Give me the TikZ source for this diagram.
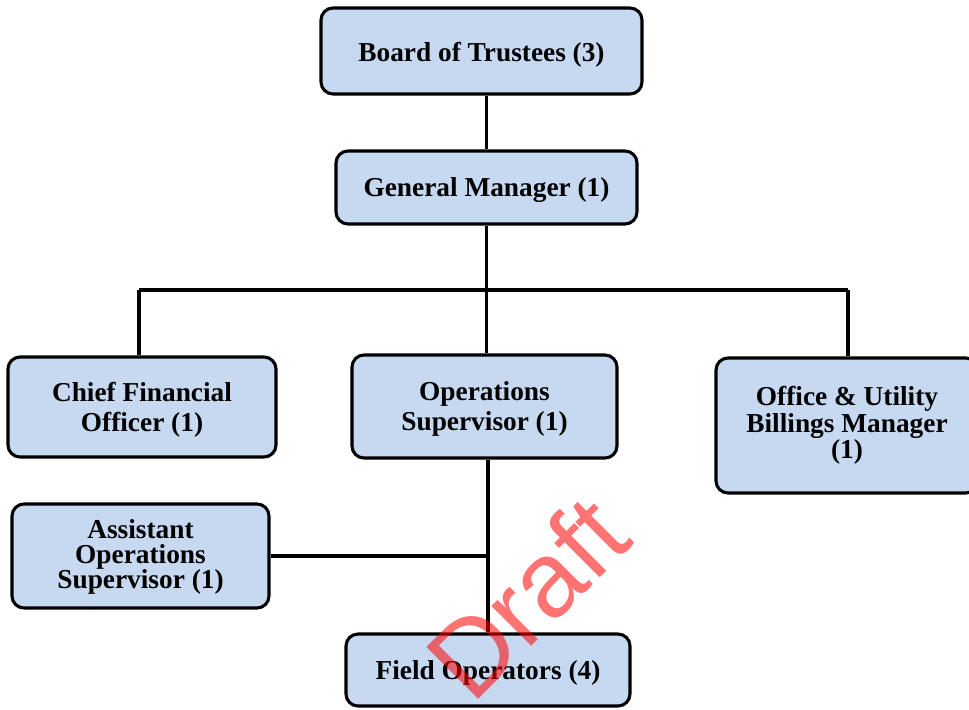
\documentclass[tikz,border=0pt]{standalone}
\usepackage{fontspec}
\setmainfont{Liberation Serif}
\newfontfamily\wmfont{Liberation Sans}
\definecolor{boxfill}{HTML}{C6D9F1}
\begin{document}
\begin{tikzpicture}[x=0.75pt,y=-0.75pt,
  orgbox/.style={draw=black,line width=2.3pt,fill=boxfill,rounded corners=9pt,inner sep=0pt},
  lbl/.style={align=center,inner sep=0pt,font=\bfseries\fontsize{20.5}{22.5}\selectfont},
  conn/.style={draw=black,line width=2.5pt}]
\useasboundingbox (0,0) rectangle (969,709);
\clip (0,0) rectangle (969,709);
% boxes
\node[orgbox,minimum width=321*0.75pt,minimum height=86*0.75pt] (board) at (481.5,51) {};
\node[orgbox,minimum width=301*0.75pt,minimum height=73*0.75pt] (gm) at (486.5,187.5) {};
\node[orgbox,minimum width=268*0.75pt,minimum height=100*0.75pt] (cfo) at (142,407) {};
\node[orgbox,minimum width=265*0.75pt,minimum height=103*0.75pt] (ops) at (484.5,406.5) {};
\node[orgbox,minimum width=262*0.75pt,minimum height=135*0.75pt] (off) at (847,425.5) {};
\node[orgbox,minimum width=257*0.75pt,minimum height=104*0.75pt] (asst) at (140.5,556) {};
\node[orgbox,minimum width=284*0.75pt,minimum height=72*0.75pt] (field) at (488,670) {};
% labels
\node[lbl] (board-t) at ([yshift=-3pt]board.center) {Board of Trustees (3)};
\node[lbl] (gm-t) at ([yshift=-2pt]gm.center) {General Manager (1)};
\node[lbl] (cfo-t) at ([yshift=-2pt]cfo.center) {Chief Financial\\Officer (1)};
\node[lbl] (ops-t) at ([yshift=-2pt]ops.center) {Operations\\Supervisor (1)};
\node[lbl,font=\bfseries\fontsize{20.5}{20}\selectfont] (off-t) at ([yshift=0pt]off.center) {Office \& Utility\\Billings Manager\\(1)};
\node[lbl,font=\bfseries\fontsize{20.5}{18.75}\selectfont] (asst-t) at ([yshift=-1pt]asst.center) {Assistant\\Operations\\Supervisor (1)};
\node[lbl] (field-t) at ([yshift=-2pt]field.center) {Field Operators (4)};
\coordinate (busL) at (139,290);
\coordinate (busR) at (848,290);
% connectors
\draw[conn] (board.south -| gm.north) -- (gm.north);
\draw[conn] (gm.south) -- (gm.south |- busL);
\draw[conn] (busL) -- (busR);
\draw[conn] (busL) -- (busL |- cfo.north);
\draw[conn] (gm.south |- busL) -- (gm.south |- ops.north);
\draw[conn] (busR) -- (busR |- off.north);
\draw[conn] (ops.south -| field.north) -- (field.north);
\draw[conn] (asst.east) -- (asst.east -| field.north);
% watermark
\node[text=red,opacity=0.55,rotate=45,font=\wmfont\fontsize{80}{80}\selectfont,inner sep=0pt] (wm) at (527,597) {Draft};
\end{tikzpicture}
\end{document}
